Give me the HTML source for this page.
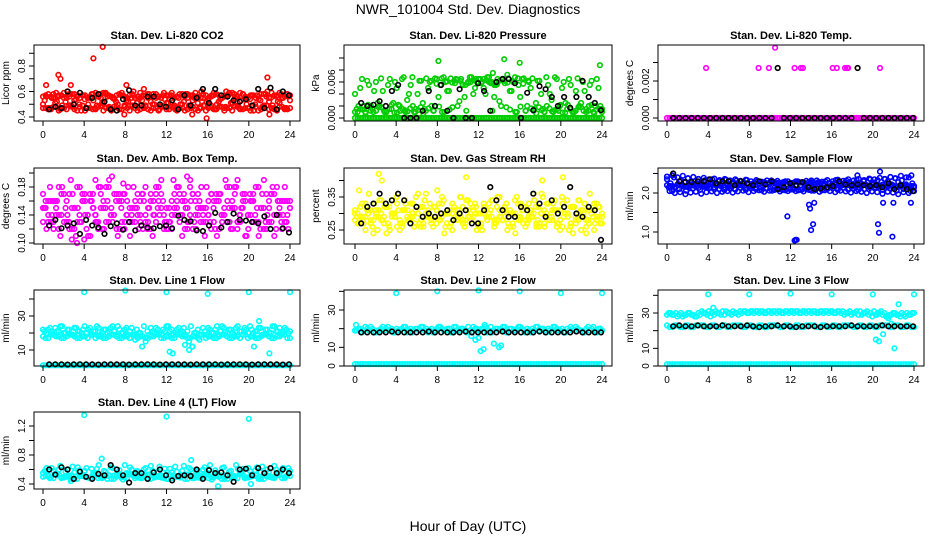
<!DOCTYPE html>
<html><head><meta charset="utf-8"><title>NWR_101004 Std. Dev. Diagnostics</title>
<style>
html,body{margin:0;padding:0;background:#fff;}
svg{display:block;font-family:"Liberation Sans",sans-serif;}
</style></head>
<body>
<svg id="chart" width="936" height="540" viewBox="0 0 936 540">
<rect x="0" y="0" width="936" height="540" fill="#fff"/>
<text x="468" y="14" text-anchor="middle" font-size="14">NWR_101004  Std. Dev. Diagnostics</text>
<text x="468" y="531" text-anchor="middle" font-size="14">Hour of Day (UTC)</text>
</svg>
<script>
// ---------- data ----------
const hourTicks = [0,4,8,12,16,20,24];
const co2Main = [0.50,0.56,0.47,0.58,0.52,0.46,0.55,0.60,0.49,0.53,0.57,0.45,0.54,0.50,0.58,0.47,0.56,0.51,0.59,0.48,0.55,0.52,0.46,0.57,0.53,0.49,0.60,0.51,0.55,0.47,0.58,0.52,0.50,0.56,0.48,0.54,0.51,0.57,0.46,0.55,0.50,0.58,0.49,0.53,0.56,0.47,0.55,0.52,0.48,0.57,0.50,0.54,0.47,0.56,0.51,0.58,0.49,0.53,0.55,0.47,0.57,0.50,0.54,0.48,0.58,0.52,0.49,0.56,0.51,0.55,0.47,0.53];
const co2Lo = [0.47,0.46,0.48,0.45,0.47,0.49,0.46,0.48,0.45,0.47,0.46,0.49,0.47,0.45,0.48,0.46,0.47,0.49,0.45,0.48,0.46,0.47,0.45,0.48,0.46,0.49,0.47,0.45,0.48,0.46,0.47,0.45,0.49,0.46,0.48,0.47,0.45,0.48,0.46,0.47,0.49,0.45,0.48,0.46,0.47,0.48,0.46,0.47];
const co2Hi = [0.56,0.58,0.55,0.57,0.59,0.56,0.58,0.55,0.57,0.56,0.59,0.55,0.58,0.56,0.57,0.59,0.55,0.58,0.56,0.57,0.55,0.58,0.56,0.59,0.57,0.55,0.58,0.56,0.57,0.59,0.55,0.57,0.56,0.58,0.55,0.57,0.59,0.56,0.58,0.55,0.57,0.56,0.58,0.55,0.57,0.59,0.56,0.57];
const co2OutX = [5.8,4.9,1.5,1.7,0.3,2.7,7.9,8.1,14.5,15.9,21.8,22.0,9.8,17.8];
const co2OutY = [0.95,0.86,0.73,0.70,0.65,0.65,0.42,0.65,0.42,0.39,0.71,0.42,0.62,0.60];
const co2Black = [0.46,0.48,0.47,0.60,0.50,0.59,0.47,0.55,0.58,0.52,0.46,0.45,0.54,0.61,0.49,0.49,0.56,0.56,0.50,0.48,0.53,0.46,0.57,0.49,0.55,0.62,0.51,0.62,0.57,0.56,0.53,0.52,0.54,0.49,0.62,0.47,0.63,0.46,0.60,0.57];

const presMain = [0.004,0.002,0.0065,0.001,0.0055,0.0015,0.006,0.002,0.0045,0.001,0.0065,0.0025,0.005,0.0012,0.0068,0.003,0.0055,0.001,0.004,0.0062,0.0015,0.005,0.002,0.0066,0.0035,0.001,0.006,0.0045,0.0018,0.0065,0.0028,0.0055,0.0012,0.0068,0.004,0.006,0.0065,0.005,0.0068,0.0058,0.0035,0.0065,0.002,0.0062,0.0066,0.0045,0.0068,0.0055,0.0065,0.0012,0.006,0.0066,0.0025,0.0062,0.0015,0.0068,0.004,0.001,0.0065,0.0022,0.006,0.0015,0.0055,0.001,0.0066,0.0025,0.0045,0.0012,0.0062,0.002,0.005,0.0015];
const presLo = [0.001,0.0015,0.0008,0.002,0.0012,0.0018,0.001,0.0022,0.0009,0.0015,0.0011,0.002,0.0013,0.0008,0.0016,0.0012,0.0019,0.001,0.0014,0.0058,0.0062,0.0055,0.006,0.0065,0.0058,0.0063,0.006,0.0056,0.0064,0.0059,0.0061,0.0066,0.0057,0.0062,0.0012,0.0018,0.001,0.0016,0.0013,0.002,0.0009,0.0015,0.0012,0.0018,0.001,0.0022,0.0014,0.001];
const presZero = [0,0,0,0,0,0,0,0,0,0,0,0,0,0,0,0,0,0,0,0,0,0,0,0,0,0,0,0,0,0,0,0,0,0,0,0,0,0,0,0,0,0,0,0,0,0,0,0];
const presOutX = [8.1,14.5,16.0,23.8,13.4,14.8];
const presOutY = [0.0095,0.0098,0.0092,0.0088,0.0075,0.0072];
const presBlack = [0.0025,0.002,0.0022,0.0028,0.002,0.0045,0.0055,0,0,0,0.0012,0.0045,0.002,0.0055,0.0012,0,0.0048,0,0,0.0058,0.0045,0.0012,0.006,0.0065,0.0065,0.0058,0,0.0042,0.0013,0.0053,0.0048,0.0035,0.002,0.0035,0.0017,0.0035,0.0062,0.0035,0.0025,0.0013];

const tempZero = [0,0,0,0,0,0,0,0,0,0,0,0,0,0,0,0,0,0,0,0,0,0,0,0,0,0,0,0,0,0,0,0,0,0,0,0,0,0,0,0,0,0,0,0,0,0,0,0];
const tempOutX = [3.8,8.9,9.9,12.4,13.0,13.2,16.1,16.5,17.3,17.5,17.6,20.7,10.5];
const tempOutY = [0.0027,0.0027,0.0027,0.0027,0.0027,0.0027,0.0027,0.0027,0.0027,0.0027,0.0027,0.0027,0.0038];
const tempBlack = [0,0,0,0,0,0,0,0,0,0,0,0,0,0,0,0,0,0.0027,0,0,0,0,0,0,0,0,0,0,0,0,0.0027,0,0,0,0,0,0,0,0,0];

const ambMain = [0.15,0.12,0.18,0.13,0.16,0.11,0.17,0.14,0.19,0.12,0.15,0.13,0.17,0.11,0.16,0.14,0.18,0.12,0.15,0.19,0.13,0.16,0.12,0.17,0.14,0.11,0.18,0.15,0.13,0.16,0.12,0.17,0.14,0.15,0.19,0.13,0.12,0.16,0.14,0.18,0.11,0.15,0.13,0.17,0.12,0.16,0.14,0.18,0.13,0.15,0.11,0.17,0.14,0.16,0.12,0.18,0.13,0.15,0.17,0.12,0.16,0.14,0.11,0.17,0.13,0.15,0.18,0.12,0.16,0.14,0.13,0.15];
const ambLo = [0.13,0.16,0.12,0.14,0.17,0.12,0.15,0.13,0.16,0.11,0.14,0.17,0.13,0.15,0.12,0.16,0.14,0.13,0.17,0.12,0.15,0.14,0.16,0.12,0.13,0.15,0.17,0.12,0.14,0.16,0.13,0.15,0.12,0.17,0.14,0.13,0.16,0.12,0.15,0.14,0.17,0.13,0.12,0.16,0.14,0.15,0.13,0.16];
const ambHi = [0.17,0.14,0.16,0.18,0.13,0.17,0.15,0.18,0.14,0.16,0.13,0.15,0.18,0.14,0.17,0.13,0.16,0.15,0.14,0.17,0.13,0.16,0.18,0.14,0.15,0.17,0.13,0.16,0.18,0.14,0.15,0.13,0.17,0.16,0.14,0.18,0.15,0.13,0.17,0.14,0.16,0.18,0.15,0.13,0.17,0.14,0.16,0.15];
const ambOutX = [2.8,4.0,6.7,14.0,14.3,18.9,5.1,7.8,3.3];
const ambOutY = [0.105,0.105,0.195,0.195,0.19,0.19,0.19,0.185,0.10];
const ambBlack = [0.125,0.133,0.121,0.125,0.128,0.113,0.133,0.125,0.122,0.113,0.124,0.128,0.119,0.13,0.118,0.125,0.122,0.121,0.124,0.125,0.121,0.139,0.133,0.131,0.118,0.117,0.125,0.143,0.122,0.13,0.142,0.133,0.132,0.13,0.128,0.138,0.12,0.14,0.121,0.115];

const rhMain = [0.30,0.27,0.33,0.29,0.36,0.26,0.31,0.34,0.28,0.32,0.25,0.30,0.35,0.27,0.31,0.29,0.33,0.26,0.30,0.28,0.34,0.31,0.27,0.32,0.29,0.35,0.26,0.30,0.33,0.28,0.31,0.27,0.34,0.29,0.32,0.25,0.30,0.33,0.28,0.31,0.26,0.35,0.29,0.32,0.27,0.30,0.34,0.28,0.31,0.26,0.33,0.29,0.32,0.27,0.35,0.30,0.28,0.33,0.26,0.31,0.29,0.34,0.27,0.32,0.30,0.25,0.33,0.28,0.31,0.27,0.32,0.29];
const rhLo = [0.28,0.32,0.25,0.31,0.29,0.34,0.24,0.30,0.33,0.27,0.31,0.29,0.36,0.26,0.30,0.28,0.33,0.24,0.31,0.29,0.35,0.27,0.30,0.32,0.26,0.29,0.34,0.28,0.31,0.25,0.30,0.33,0.27,0.29,0.36,0.26,0.31,0.28,0.34,0.25,0.30,0.32,0.27,0.29,0.24,0.31,0.28,0.30];
const rhHi = [0.31,0.29,0.33,0.27,0.30,0.28,0.32,0.29,0.26,0.31,0.28,0.33,0.30,0.27,0.29,0.32,0.28,0.30,0.26,0.31,0.29,0.28,0.33,0.30,0.27,0.31,0.29,0.32,0.28,0.30,0.27,0.29,0.31,0.28,0.30,0.32,0.27,0.29,0.31,0.28,0.30,0.26,0.29,0.31,0.28,0.30,0.29,0.27];
const rhOutX = [2.3,2.6,10.8,18.2,20.2,0.4,8.0];
const rhOutY = [0.42,0.40,0.41,0.40,0.41,0.37,0.37];
const rhBlack = [0.27,0.32,0.33,0.36,0.33,0.34,0.36,0.34,0.27,0.32,0.29,0.30,0.29,0.30,0.31,0.28,0.30,0.31,0.27,0.27,0.31,0.38,0.34,0.31,0.29,0.29,0.32,0.31,0.36,0.33,0.29,0.34,0.30,0.32,0.38,0.30,0.29,0.32,0.31,0.22];

const flowMain = [2.35,2.25,2.40,2.20,2.32,2.28,2.38,2.22,2.30,2.36,2.18,2.33,2.26,2.35,2.20,2.30,2.24,2.34,2.18,2.28,2.32,2.20,2.27,2.33,2.17,2.25,2.30,2.15,2.28,2.22,2.32,2.14,2.26,2.20,2.30,2.12,2.24,2.18,2.28,2.10,2.22,2.16,2.27,2.12,2.20,2.25,2.10,2.18,2.24,2.12,2.20,2.26,2.10,2.16,2.24,2.08,2.18,2.22,2.10,2.26,2.14,2.20,2.08,2.24,2.12,2.18,2.06,2.20,2.10,2.16,2.05,2.14];
const flowLo = [2.20,2.18,2.22,2.17,2.15,2.19,2.13,2.16,2.12,2.15,2.10,2.14,2.11,2.09,2.13,2.08,2.12,2.10,2.07,2.11,2.06,2.10,2.08,2.05,2.09,2.07,2.04,2.08,2.06,2.03,2.07,2.05,2.02,2.06,2.04,2.01,2.05,2.03,2.00,2.04,2.02,1.98,2.03,2.01,1.97,2.02,2.00,2.05];
const flowHi = [2.42,2.45,2.40,2.44,2.38,2.41,2.36,2.39,2.35,2.37,2.33,2.36,2.32,2.35,2.31,2.34,2.30,2.33,2.29,2.32,2.28,2.31,2.27,2.30,2.26,2.29,2.25,2.28,2.24,2.27,2.23,2.26,2.22,2.25,2.21,2.24,2.20,2.23,2.19,2.22,2.18,2.21,2.17,2.20,2.16,2.19,2.15,2.18];
const flowOutX = [11.7,12.4,12.5,12.6,13.8,13.9,14.0,14.2,14.3,20.5,20.6,21.9,21.0,23.7,22.0,18.5,20.7];
const flowOutY = [1.4,0.78,0.8,0.8,1.7,1.6,1.05,1.2,1.75,1.2,0.98,0.88,1.75,1.75,1.75,2.45,2.55];
const flowBlack = [2.5,2.3,2.28,2.28,2.3,2.3,2.35,2.25,2.3,2.3,2.2,2.3,2.25,2.2,2.3,2.22,2.3,2.1,2.15,2.25,2.2,2.28,2.15,2.1,2.12,2.15,2.18,2.3,2.22,2.2,2.22,2.2,2.18,2.2,2.15,2.25,2.1,2.2,2.1,2.05];

const l1Main = [22,20,23,19,21,24,20,22,19,23,21,20,24,22,19,21,23,20,22,21,24,19,22,20,23,21,19,22,20,24,21,23,20,22,19,21,24,22,20,23,21,19,15,12,20,16,23,19,22,20,24,21,23,20,22,19,24,21,23,20,22,21,23,19,22,20,24,21,23,20,22,21];
const l1Lo = [18,17,19,18,17,19,18,17,18,19,17,18,17,19,18,17,18,19,17,18,17,18,19,17,18,17,19,18,17,18,19,17,18,17,19,18,17,18,19,17,18,17,19,18,17,18,19,17];
const l1Base = [1,1,1,1,1,1,1,1,1,1,1,1,1,1,1,1,1,1,1,1,1,1,1,1,1,1,1,1,1,1,1,1,1,1,1,1,1,1,1,1,1,1,1,1,1,1,1,1];
const l1OutX = [4,8,12,16,20,24,12.3,12.6,13.8,14.2,14.5,20.5,22.0,21.0];
const l1OutY = [44,45,44,43,44,44,9,8,13,10,12,12,8,27];
const l1Black = [1.5,1.6,1.5,1.4,1.5,1.6,1.5,1.5,1.4,1.6,1.5,1.5,1.6,1.4,1.5,1.5,1.6,1.5,1.4,1.5,1.6,1.5,1.5,1.4,1.6,1.5,1.5,1.6,1.4,1.5,1.5,1.6,1.5,1.4,1.5,1.6,1.5,1.5,1.4,1.6];

const l2Main = [19,20,18,21,19,20,18,19,21,20,19,18,20,19,21,18,20,19,20,21,19,18,20,19,21,20,19,20,18,21,19,20,18,19,21,20,19,20,18,21,19,20,19,21,18,20,19,21,20,18,19,20,21,19,20,18,19,21,20,19,18,20,21,19,20,19,18,21,20,19,20,19];
const l2Base = [1,1,1,1,1,1,1,1,1,1,1,1,1,1,1,1,1,1,1,1,1,1,1,1,1,1,1,1,1,1,1,1,1,1,1,1,1,1,1,1,1,1,1,1,1,1,1,1];
const l2OutX = [0.1,4,8,12,16,20,24,11.7,12.0,12.2,12.5,13.5,14.0,14.2,11.3,9.2,12.6];
const l2OutY = [22,39,40,40.5,40,39,39,14,15,8,9,12,10,11,16,20,22];
const l2Black = [18,18,18,18,18,18.5,18,18,18,18,18,18.5,18,18,18,18,18,18.5,18,18,18,18,18,18.5,18,18,18,18,18,18.5,18,18,18,18,18,18.5,18,18,18,18];

const l3Main = [29,30,29,28,30,29,30,29,28,30,31,30,31,30,31,30,31,31,30,31,30,31,31,30,31,30,31,31,30,31,30,31,31,30,31,30,31,31,30,31,30,31,31,30,31,30,31,31,30,31,30,29,30,29,30,29,29,30,29,28,29,30,29,28,29,30,29,28,29,30,29,30];
const l3Lo = [23,22,23,22,23,22,23,23,22,23,22,23,22,23,23,22,23,22,23,22,23,23,22,23,22,23,22,23,23,22,23,22,23,22,23,23,22,23,22,23,22,23,23,22,23,22,23,22];
const l3Base = [1,1,1,1,1,1,1,1,1,1,1,1,1,1,1,1,1,1,1,1,1,1,1,1,1,1,1,1,1,1,1,1,1,1,1,1,1,1,1,1,1,1,1,1,1,1,1,1];
const l3OutX = [4,8,12,16,20,24,4.3,4.5,20.3,20.6,21.0,21.5,21.8,22.1,22.5,22.0,20.4];
const l3OutY = [40.5,40.5,41,40.5,40.5,40.5,30,33,15,14,18,27,24,10,35,23,29];
const l3Black = [22.5,23,22.5,22.5,23,22.5,22.5,22.5,23,22.5,22.5,22.5,23,22.5,22,22.5,22.5,23,22.5,22.5,22,22.5,22.5,22.5,22,22.5,22.5,22.5,22.5,23,22.5,22.5,22.5,22.5,23,22.5,22.5,22.5,22.5,22.5];

const l4Main = [0.55,0.62,0.48,0.58,0.52,0.65,0.50,0.60,0.47,0.56,0.63,0.51,0.58,0.49,0.61,0.54,0.66,0.48,0.57,0.52,0.62,0.50,0.59,0.46,0.55,0.63,0.51,0.58,0.48,0.60,0.53,0.65,0.49,0.57,0.52,0.61,0.47,0.56,0.64,0.50,0.58,0.53,0.62,0.48,0.57,0.51,0.60,0.54,0.66,0.49,0.56,0.52,0.63,0.47,0.58,0.51,0.61,0.55,0.48,0.62,0.53,0.59,0.50,0.64,0.52,0.57,0.49,0.60,0.54,0.62,0.51,0.58];
const l4Lo = [0.50,0.52,0.48,0.53,0.49,0.51,0.47,0.52,0.50,0.48,0.53,0.49,0.51,0.47,0.52,0.50,0.48,0.53,0.49,0.51,0.47,0.52,0.50,0.48,0.53,0.49,0.51,0.47,0.52,0.50,0.48,0.53,0.49,0.51,0.47,0.52,0.50,0.48,0.53,0.49,0.51,0.47,0.52,0.50,0.48,0.53,0.49,0.51];
const l4OutX = [4,12,20,5.7,14.4,17,2.7,20.2];
const l4OutY = [1.35,1.33,1.30,0.75,0.73,0.37,0.44,0.40];
const l4Black = [0.6,0.53,0.63,0.6,0.47,0.57,0.5,0.47,0.54,0.52,0.66,0.6,0.52,0.42,0.55,0.55,0.47,0.56,0.6,0.52,0.45,0.51,0.52,0.51,0.6,0.47,0.59,0.55,0.56,0.52,0.43,0.6,0.61,0.52,0.62,0.55,0.62,0.55,0.6,0.55];

// tick values / labels
const co2Ticks=[0.4,0.5,0.6,0.7,0.8,0.9], co2Labels=["0.4","0.6","0.8"];
const presTicks=[0,0.002,0.004,0.006,0.008,0.010], presLabels=["0.000","0.006"];
const tempTicks=[0,0.001,0.002,0.003], tempLabels=["0.000","0.002"];
const ambTicks=[0.10,0.12,0.14,0.16,0.18,0.20], ambLabels=["0.10","0.14","0.18"];
const rhTicks=[0.25,0.30,0.35,0.40], rhLabels=["0.25","0.35"];
const flowTicks=[1.0,1.5,2.0,2.5], flowLabels=["1.0","2.0"];
const l1Ticks=[10,20,30,40], l1Labels=["10","30"];
const l2Ticks=[0,10,20,30,40], l2Labels=["0","10","30"];
const l3Ticks=[0,10,20,30,40], l3Labels=["0","10","30"];
const l4Ticks=[0.4,0.6,0.8,1.0,1.2], l4Labels=["0.4","0.8","1.2"];

// ---------- layout (not data) ----------
const COLS=[{l:34,r:300,x0:43,x24:290},{l:344,r:612,x0:355,x24:602},{l:658,r:924,x0:667,x24:914}];
const ROWS=[{t:45,b:121},{t:168,b:244},{t:290,b:366},{t:412,b:489}];

const panels=[
 {name:"co2",title:"Stan. Dev. Li-820 CO2",ylab:"Licor ppm",c:0,r:0,color:"#ff0000",v0:0.4,p0:117,v1:0.8,p1:66,ticks:co2Ticks,labels:co2Labels,main:[co2Lo,co2Hi,co2Main],outX:co2OutX,outY:co2OutY,black:co2Black},
 {name:"pressure",title:"Stan. Dev. Li-820 Pressure",ylab:"kPa",c:1,r:0,color:"#00cd00",v0:0,p0:118,v1:0.006,p1:82,ticks:presTicks,labels:presLabels,main:[presZero,presLo,presMain],outX:presOutX,outY:presOutY,black:presBlack},
 {name:"temp",title:"Stan. Dev. Li-820 Temp.",ylab:"degrees C",c:2,r:0,color:"#ff00ff",v0:0,p0:118,v1:0.002,p1:81,ticks:tempTicks,labels:tempLabels,main:[tempZero],outX:tempOutX,outY:tempOutY,black:tempBlack},
 {name:"amb-box-temp",title:"Stan. Dev. Amb. Box Temp.",ylab:"degrees C",c:0,r:1,color:"#ff00ff",v0:0.10,p0:243,v1:0.18,p1:187,ticks:ambTicks,labels:ambLabels,main:[ambLo,ambHi,ambMain],outX:ambOutX,outY:ambOutY,black:ambBlack},
 {name:"gas-rh",title:"Stan. Dev. Gas Stream RH",ylab:"percent",c:1,r:1,color:"#ffff00",v0:0.25,p0:230,v1:0.35,p1:197,ticks:rhTicks,labels:rhLabels,main:[rhLo,rhHi,rhMain],outX:rhOutX,outY:rhOutY,black:rhBlack},
 {name:"sample-flow",title:"Stan. Dev. Sample Flow",ylab:"ml/min",c:2,r:1,color:"#0000ff",v0:1.0,p0:232,v1:2.0,p1:193,ticks:flowTicks,labels:flowLabels,main:[flowLo,flowHi,flowMain],outX:flowOutX,outY:flowOutY,black:flowBlack},
 {name:"line1-flow",title:"Stan. Dev. Line 1 Flow",ylab:"ml/min",c:0,r:2,color:"#00ffff",v0:10,p0:350,v1:30,p1:316,ticks:l1Ticks,labels:l1Labels,main:[l1Base,l1Lo,l1Main],outX:l1OutX,outY:l1OutY,black:l1Black},
 {name:"line2-flow",title:"Stan. Dev. Line 2 Flow",ylab:"ml/min",c:1,r:2,color:"#00ffff",v0:0,p0:366,v1:30,p1:310,ticks:l2Ticks,labels:l2Labels,main:[l2Base,l2Main],outX:l2OutX,outY:l2OutY,black:l2Black},
 {name:"line3-flow",title:"Stan. Dev. Line 3 Flow",ylab:"ml/min",c:2,r:2,color:"#00ffff",v0:0,p0:366,v1:30,p1:313,ticks:l3Ticks,labels:l3Labels,main:[l3Base,l3Lo,l3Main],outX:l3OutX,outY:l3OutY,black:l3Black},
 {name:"line4-flow",title:"Stan. Dev. Line 4 (LT) Flow",ylab:"ml/min",c:0,r:3,color:"#00ffff",v0:0.4,p0:484,v1:1.2,p1:426,ticks:l4Ticks,labels:l4Labels,main:[l4Lo,l4Main],outX:l4OutX,outY:l4OutY,black:l4Black}
];

const svg=document.getElementById('chart');
const NS='http://www.w3.org/2000/svg';
function mk(tag,attrs,parent){const e=document.createElementNS(NS,tag);for(const k in attrs)e.setAttribute(k,attrs[k]);(parent||svg).appendChild(e);return e;}

panels.forEach(p=>{
  const C=COLS[p.c],R=ROWS[p.r];
  const sx=h=>C.x0+h*(C.x24-C.x0)/24;
  const sy=v=>p.p0+(v-p.v0)*(p.p1-p.p0)/(p.v1-p.v0);
  const g=mk('g',{});
  
  
  const t=mk('text',{x:(C.l+C.r)/2,y:R.t-6,'text-anchor':'middle','font-size':'11','font-weight':'bold'},g);
  t.textContent=p.title;
  
  
  const pts=mk('g',{fill:'none','stroke-width':'1.6'},g);
  
  
  p.main.forEach(arr=>{
    const n=arr.length, step=24/(n-1);
    arr.forEach((v,i)=>{
      const h=i*step;
      const c=mk('circle',{cx:sx(h).toFixed(1),cy:sy(v).toFixed(1),r:'2.3',stroke:p.color},pts);
      
      
      if(i<n-1){
        const v2=arr[n-1-i];
        const c2=mk('circle',{cx:sx(h+step/2).toFixed(1),cy:sy(v2).toFixed(1),r:'2.3',stroke:p.color},pts);
        
        
      }
    });
  });
  p.outX.forEach((h,i)=>{
    const c=mk('circle',{cx:sx(h).toFixed(1),cy:sy(p.outY[i]).toFixed(1),r:'2.3',stroke:p.color},pts);
    
    
  });
  p.black.forEach((v,i)=>{
    const h=0.6+i*23.3/(p.black.length-1);
    const c=mk('circle',{cx:sx(h).toFixed(1),cy:sy(v).toFixed(1),r:'2.3',stroke:'#000'},pts);
    
    
  });
  const fr=mk('rect',{x:C.l,y:R.t,width:C.r-C.l,height:R.b-R.t,fill:'none',stroke:'#000','stroke-width':'1'},g);
  
  
  hourTicks.forEach(h=>{
    const x=sx(h);
    const l=mk('line',{x1:x,x2:x,y1:R.b,y2:R.b+5,stroke:'#000'},g);
    
    
    const tx=mk('text',{x:x,y:R.b+17,'text-anchor':'middle','font-size':'10'},g);
    tx.textContent=String(h);
    
    
  });
  p.ticks.forEach(v=>{
    const y=sy(v);
    if(y<R.t-1||y>R.b+1)return;
    const l=mk('line',{x1:C.l-5,x2:C.l,y1:y,y2:y,stroke:'#000'},g);
    
    
  });
  p.labels.forEach(s=>{
    const y=sy(parseFloat(s));
    const tx=mk('text',{x:C.l-9,y:y,'text-anchor':'middle','font-size':'10',transform:'rotate(-90 '+(C.l-9)+' '+y+')'},g);
    tx.textContent=s;
    
    
  });
  const ym=(R.t+R.b)/2, yx=C.l-25;
  const yl=mk('text',{x:yx,y:ym,'text-anchor':'middle','font-size':'10',transform:'rotate(-90 '+yx+' '+ym+')'},g);
  yl.textContent=p.ylab;
  
  
});
</script>
</body></html>
